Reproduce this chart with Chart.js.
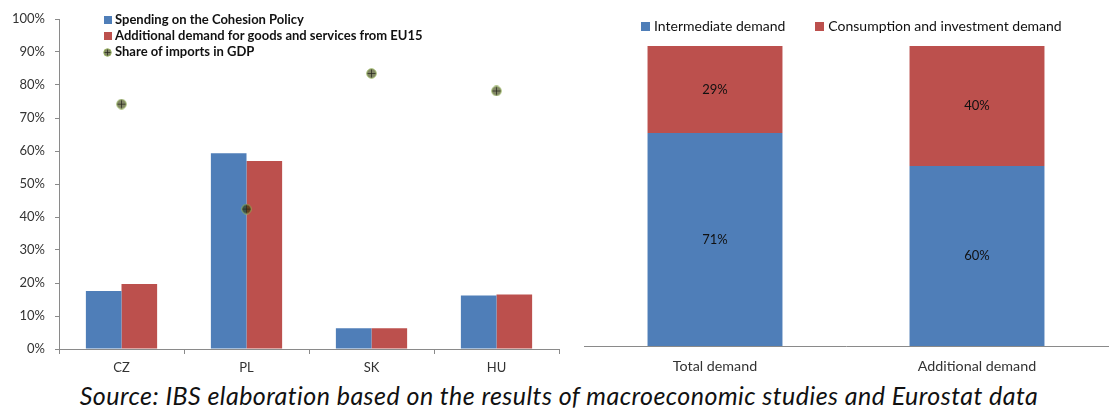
<!DOCTYPE html>
<html>
<head>
<meta charset="utf-8">
<script src="https://cdn.jsdelivr.net/npm/chart.js@4"></script>
<style>
  html, body { margin:0; padding:0; background:#fff; }
  body { width:1118px; height:409px; position:relative; overflow:hidden; font-family: Lato, "Open Sans", sans-serif; }
  #left { position:absolute; left:0; top:0; width:570px; height:380px; }
  #right { position:absolute; left:570px; top:0; width:548px; height:380px; }
  .leg { position:absolute; font-family: Lato, sans-serif; color:#111; white-space:nowrap; }
  .lrow { position:absolute; left:0; height:16px; line-height:16px; font-weight:bold; font-size:13px; }
  .box { display:inline-block; width:8px; height:8px; margin-right:3px; vertical-align:-0px; }
  .rleg { font-size:14px; line-height:16px; }
  #caption { position:absolute; left:0; top:380px; width:1118px; line-height:30px; text-align:center; font-style:italic; font-size:25px; letter-spacing:0.45px; color:#111; font-family: Lato, sans-serif; }
</style>
</head>
<body>
<canvas id="left" width="570" height="380"></canvas>
<canvas id="right" width="548" height="380"></canvas>
<div class="leg" id="lleg" style="left:104px; top:11px;"></div>
<div class="leg rleg" id="rleg" style="left:641px; top:18px;"></div>
<div id="caption">Source: IBS elaboration based on the results of macroeconomic studies and Eurostat data</div>
<script>
// ---- Data ----
const categories = ['CZ', 'PL', 'SK', 'HU'];
const cohesionSpending = [17.6, 59.3, 6.3, 16.2];
const additionalDemand = [19.7, 57.0, 6.3, 16.5];
const importsShare = [74.2, 42.4, 83.5, 78.2];
const leftSeriesNames = ['Spending on the Cohesion Policy', 'Additional demand for goods and services from EU15', 'Share of imports in GDP'];

const demandCategories = ['Total demand', 'Additional demand'];
const intermediateDemand = [71, 60];
const consumptionDemand = [29, 40];
const rightSeriesNames = ['Intermediate demand', 'Consumption and investment demand'];

const BLUE = '#4F7EB8';
const RED = '#BC504D';
const AXIS = '#8a8a8a';
const TXT = '#333';
const FONT = 'Lato';

// marker: circle with cross
function makeMarker(size) {
  const c = document.createElement('canvas');
  c.width = size; c.height = size;
  const g = c.getContext('2d');
  const r = size / 2;
  g.beginPath(); g.arc(r, r, r - 0.75, 0, Math.PI * 2);
  g.fillStyle = 'rgba(47,55,0,0.6)'; g.fill();
  g.strokeStyle = 'rgba(150,180,90,0.9)'; g.lineWidth = 1; g.stroke();
  g.beginPath();
  g.moveTo(r, 1.5); g.lineTo(r, size - 1.5);
  g.moveTo(1.5, r); g.lineTo(size - 1.5, r);
  g.strokeStyle = 'rgba(40,40,30,0.75)'; g.lineWidth = 1; g.stroke();
  return c;
}
const marker = makeMarker(11);

// ---- Left chart ----
new Chart(document.getElementById('left'), {
  type: 'bar',
  data: {
    labels: categories,
    datasets: [
      { label: leftSeriesNames[0], data: cohesionSpending, backgroundColor: BLUE, categoryPercentage: 0.57, barPercentage: 1.0, order: 2 },
      { label: leftSeriesNames[1], data: additionalDemand, backgroundColor: RED, categoryPercentage: 0.57, barPercentage: 1.0, order: 2 },
      { label: leftSeriesNames[2], type: 'line', data: importsShare, showLine: false, pointStyle: marker, pointRadius: 5.5, order: 1 }
    ]
  },
  options: {
    responsive: false, animation: false,
    layout: { padding: { top: 19, right: 11, left: 0, bottom: 0 } },
    plugins: { legend: { display: false }, tooltip: { enabled: false } },
    scales: {
      x: {
        grid: { offset: true, drawOnChartArea: false, color: AXIS, tickLength: 5 },
        border: { color: AXIS },
        ticks: { color: TXT, font: { family: FONT, size: 13 }, padding: 6 },
        afterFit: s => { s.height = 31; }
      },
      y: {
        min: 0, max: 100,
        grid: { drawOnChartArea: false, color: AXIS, tickLength: 4 },
        border: { color: AXIS },
        ticks: { stepSize: 10, color: TXT, font: { family: FONT, size: 13 }, padding: 10, callback: v => v + '%' },
        afterFit: s => { s.width = 59; }
      }
    }
  }
});

// ---- Right chart ----
const centerLabels = {
  id: 'centerLabels',
  afterDatasetsDraw(chart) {
    const ctx = chart.ctx;
    ctx.save();
    ctx.font = '13px ' + FONT;
    ctx.fillStyle = '#111';
    ctx.textAlign = 'center';
    ctx.textBaseline = 'middle';
    chart.data.datasets.forEach((ds, i) => {
      chart.getDatasetMeta(i).data.forEach((el, j) => {
        const p = el.getCenterPoint();
        ctx.fillText(ds.data[j] + '%', p.x, p.y);
      });
    });
    ctx.restore();
  }
};

new Chart(document.getElementById('right'), {
  type: 'bar',
  data: {
    labels: demandCategories,
    datasets: [
      { label: rightSeriesNames[0], data: intermediateDemand, backgroundColor: BLUE, categoryPercentage: 0.515, barPercentage: 1.0 },
      { label: rightSeriesNames[1], data: consumptionDemand, backgroundColor: RED, categoryPercentage: 0.515, barPercentage: 1.0 }
    ]
  },
  options: {
    responsive: false, animation: false,
    layout: { padding: { top: 46, right: 10, left: 14, bottom: 0 } },
    plugins: { legend: { display: false }, tooltip: { enabled: false } },
    scales: {
      x: {
        stacked: true,
        grid: { offset: true, drawOnChartArea: false, color: 'rgba(0,0,0,0)', tickLength: 8 },
        border: { color: AXIS },
        ticks: { color: TXT, font: { family: FONT, size: 14.3 }, padding: 4 },
        afterFit: s => { s.height = 34; }
      },
      y: { stacked: true, display: false, min: 0, max: 100 }
    }
  },
  plugins: [centerLabels]
});

// ---- HTML legends ----
const lleg = document.getElementById('lleg');
const leftColors = [BLUE, RED, null];
leftSeriesNames.forEach((n, i) => {
  const row = document.createElement('div');
  row.className = 'lrow';
  row.style.top = (i * 16) + 'px';
  if (leftColors[i]) {
    row.innerHTML = '<span class="box" style="background:' + leftColors[i] + '"></span>' + n;
  } else {
    const img = makeMarker(9);
    img.style.display = 'inline-block';
    img.style.verticalAlign = '-1px';
    img.style.marginRight = '3px';
    img.style.marginLeft = '-1px';
    row.appendChild(img);
    row.appendChild(document.createTextNode(n));
  }
  lleg.appendChild(row);
});
const rleg = document.getElementById('rleg');
const rightColors = [BLUE, RED];
rleg.innerHTML = rightSeriesNames.map((n, i) =>
  '<span class="box" style="background:' + rightColors[i] + ';width:9px;height:9px;margin-right:4px;"></span>' + n
).join('<span style="display:inline-block;width:30px"></span>');
</script>
</body>
</html>
